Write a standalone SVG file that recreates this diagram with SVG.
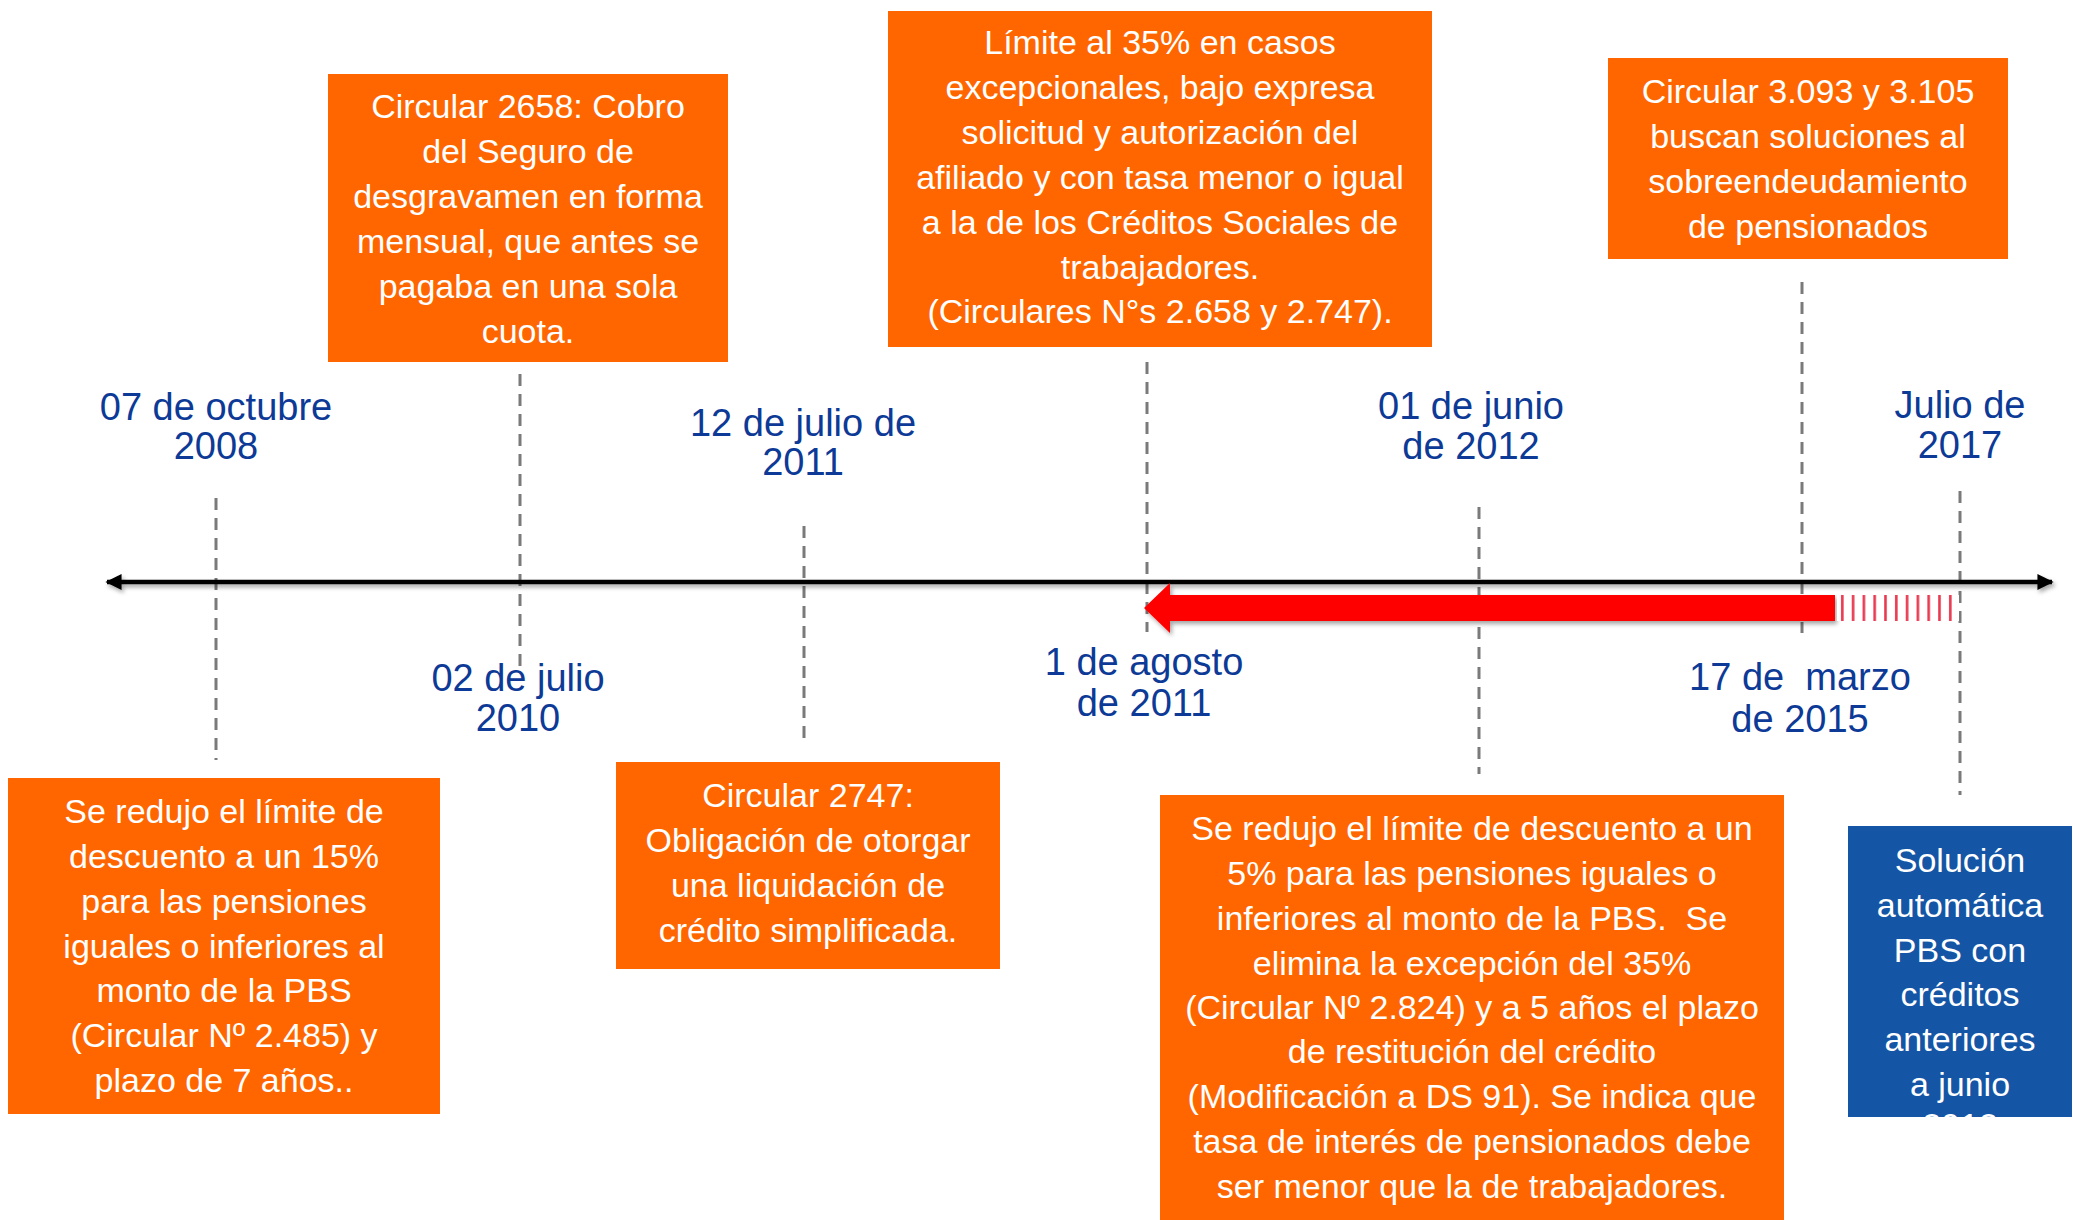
<svg xmlns="http://www.w3.org/2000/svg" width="2073" height="1220" viewBox="0 0 2073 1220">
  <style>
    .box { fill: #FF6600; }
    .blue { fill: #1555A5; }
    .bt { font-family: "Liberation Sans", Arial, sans-serif; font-size: 34px; fill: #ffffff; text-anchor: middle; }
    .dt { font-family: "Liberation Sans", Arial, sans-serif; font-size: 38px; fill: #0D3A96; text-anchor: middle; }
    .dash { stroke: #7A7A7A; stroke-width: 3; stroke-dasharray: 12 8; fill: none; }
  </style>
  <defs>
    <marker id="ah" viewBox="0 0 10 10" refX="9" refY="5" markerWidth="3.6" markerHeight="4" orient="auto-start-reverse" markerUnits="strokeWidth">
      <path d="M0,0 L10,5 L0,10 z" fill="#000000"/>
    </marker>
    <filter id="sh" x="-5%" y="-50%" width="110%" height="300%">
      <feDropShadow dx="2" dy="3" stdDeviation="2" flood-color="#000000" flood-opacity="0.35"/>
    </filter>
    <filter id="shl" filterUnits="userSpaceOnUse" x="80" y="560" width="1993" height="50">
      <feDropShadow dx="2" dy="3" stdDeviation="2" flood-color="#000000" flood-opacity="0.35"/>
    </filter>
    <pattern id="stripes" x="1837" y="0" width="10.8" height="40" patternUnits="userSpaceOnUse">
      <rect x="0" y="0" width="10.8" height="40" fill="#ffffff"/>
      <rect x="4" y="0" width="2.6" height="40" fill="#E8384F"/>
    </pattern>
    <clipPath id="clipG">
      <rect x="1848" y="826" width="224" height="291"/>
    </clipPath>
  </defs>

  <g id="connectors">
    <line x1="216" y1="498" x2="216" y2="760" class="dash"/>
    <line x1="520" y1="374" x2="520" y2="670" class="dash"/>
    <line x1="804" y1="526" x2="804" y2="746" class="dash"/>
    <line x1="1147" y1="362" x2="1147" y2="632" class="dash"/>
    <line x1="1479" y1="507" x2="1479" y2="774" class="dash"/>
    <line x1="1802" y1="282" x2="1802" y2="633" class="dash"/>
    <line x1="1960" y1="491" x2="1960" y2="795" class="dash"/>
    <path id="timeline" d="M107,582 L2052,582" stroke="#000000" stroke-width="4.5" fill="none" marker-start="url(#ah)" marker-end="url(#ah)" filter="url(#shl)"/>
    <g id="red-arrow" filter="url(#sh)">
      <path d="M1144,608 L1170,583 L1170,595 L1835,595 L1835,621 L1170,621 L1170,633 z" fill="#FF0000"/>
    </g>
    <rect x="1837" y="595" width="122" height="26" fill="url(#stripes)"/>
  </g>

  <g id="date-2008">
    <text class="dt" x="216" y="420">07 de octubre</text>
    <text class="dt" x="216" y="459">2008</text>
  </g>
  <g id="date-2010">
    <text class="dt" x="518" y="691">02 de julio</text>
    <text class="dt" x="518" y="731">2010</text>
  </g>
  <g id="date-2011-jul">
    <text class="dt" x="803" y="436">12 de julio de</text>
    <text class="dt" x="803" y="475">2011</text>
  </g>
  <g id="date-2011-ago">
    <text class="dt" x="1144" y="675">1 de agosto</text>
    <text class="dt" x="1144" y="716">de 2011</text>
  </g>
  <g id="date-2012">
    <text class="dt" x="1471" y="419">01 de junio</text>
    <text class="dt" x="1471" y="459">de 2012</text>
  </g>
  <g id="date-2015">
    <text class="dt" x="1800" y="690" xml:space="preserve">17 de  marzo</text>
    <text class="dt" x="1800" y="732">de 2015</text>
  </g>
  <g id="date-2017">
    <text class="dt" x="1960" y="418">Julio de</text>
    <text class="dt" x="1960" y="458">2017</text>
  </g>

  <g id="box-2658">
    <rect class="box" x="328" y="74" width="400" height="288"/>
    <text class="bt" x="528" y="118">Circular 2658: Cobro</text>
    <text class="bt" x="528" y="163">del Seguro de</text>
    <text class="bt" x="528" y="208">desgravamen en forma</text>
    <text class="bt" x="528" y="253">mensual, que antes se</text>
    <text class="bt" x="528" y="298">pagaba en una sola</text>
    <text class="bt" x="528" y="343">cuota.</text>
  </g>

  <g id="box-35">
    <rect class="box" x="888" y="11" width="544" height="336"/>
    <text class="bt" x="1160" y="54">Límite al 35% en casos</text>
    <text class="bt" x="1160" y="99">excepcionales, bajo expresa</text>
    <text class="bt" x="1160" y="144">solicitud y autorización del</text>
    <text class="bt" x="1160" y="189">afiliado y con tasa menor o igual</text>
    <text class="bt" x="1160" y="234">a la de los Créditos Sociales de</text>
    <text class="bt" x="1160" y="279">trabajadores.</text>
    <text class="bt" x="1160" y="323">(Circulares N°s 2.658 y 2.747).</text>
  </g>

  <g id="box-3093">
    <rect class="box" x="1608" y="58" width="400" height="201"/>
    <text class="bt" x="1808" y="103">Circular 3.093 y 3.105</text>
    <text class="bt" x="1808" y="148">buscan soluciones al</text>
    <text class="bt" x="1808" y="193">sobreendeudamiento</text>
    <text class="bt" x="1808" y="238">de pensionados</text>
  </g>

  <g id="box-15">
    <rect class="box" x="8" y="778" width="432" height="336"/>
    <text class="bt" x="224" y="823">Se redujo el límite de</text>
    <text class="bt" x="224" y="868">descuento a un 15%</text>
    <text class="bt" x="224" y="913">para las pensiones</text>
    <text class="bt" x="224" y="958">iguales o inferiores al</text>
    <text class="bt" x="224" y="1002">monto de la PBS</text>
    <text class="bt" x="224" y="1047">(Circular Nº 2.485) y</text>
    <text class="bt" x="224" y="1092">plazo de 7 años..</text>
  </g>

  <g id="box-2747">
    <rect class="box" x="616" y="762" width="384" height="207"/>
    <text class="bt" x="808" y="807">Circular 2747:</text>
    <text class="bt" x="808" y="852">Obligación de otorgar</text>
    <text class="bt" x="808" y="897">una liquidación de</text>
    <text class="bt" x="808" y="942">crédito simplificada.</text>
  </g>

  <g id="box-5">
    <rect class="box" x="1160" y="795" width="624" height="425"/>
    <text class="bt" x="1472" y="840">Se redujo el límite de descuento a un</text>
    <text class="bt" x="1472" y="885">5% para las pensiones iguales o</text>
    <text class="bt" x="1472" y="930" xml:space="preserve">inferiores al monto de la PBS.  Se</text>
    <text class="bt" x="1472" y="975">elimina la excepción del 35%</text>
    <text class="bt" x="1472" y="1019">(Circular Nº 2.824) y a 5 años el plazo</text>
    <text class="bt" x="1472" y="1063">de restitución del crédito</text>
    <text class="bt" x="1472" y="1108">(Modificación a DS 91). Se indica que</text>
    <text class="bt" x="1472" y="1153">tasa de interés de pensionados debe</text>
    <text class="bt" x="1472" y="1198">ser menor que la de trabajadores.</text>
  </g>

  <g id="box-solucion">
    <rect class="blue" x="1848" y="826" width="224" height="291"/>
    <g clip-path="url(#clipG)">
      <text class="bt" x="1960" y="872">Solución</text>
      <text class="bt" x="1960" y="917">automática</text>
      <text class="bt" x="1960" y="962">PBS con</text>
      <text class="bt" x="1960" y="1006">créditos</text>
      <text class="bt" x="1960" y="1051">anteriores</text>
      <text class="bt" x="1960" y="1096">a junio</text>
      <text class="bt" x="1960" y="1137">2012</text>
    </g>
  </g>
</svg>
